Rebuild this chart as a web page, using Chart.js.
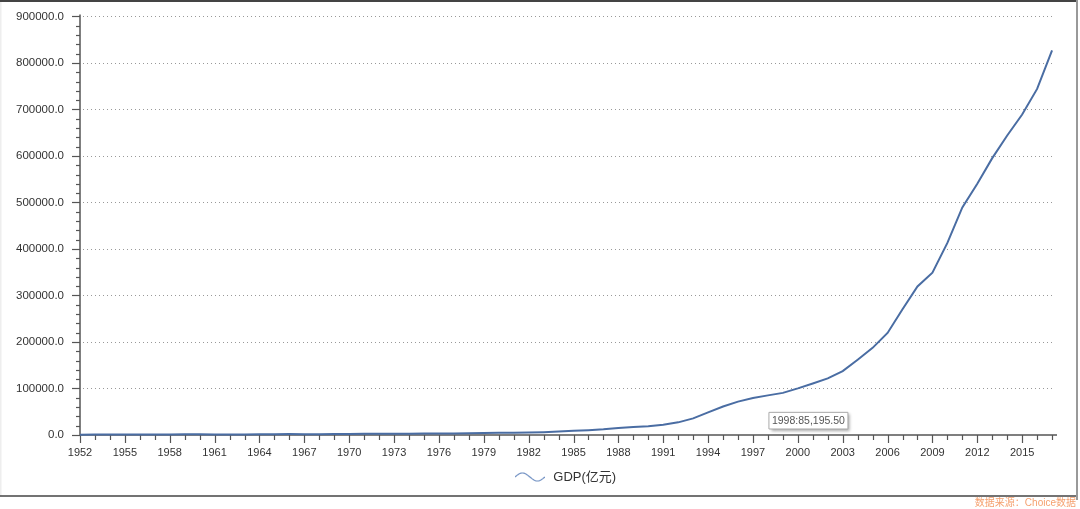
<!DOCTYPE html>
<html>
<head>
<meta charset="utf-8">
<script src="https://cdn.jsdelivr.net/npm/chart.js@4.4.1/dist/chart.umd.min.js"></script>
<style>
  html, body { margin: 0; padding: 0; background: #fff; }
  #wrap { width: 1080px; height: 509px; position: relative; }
</style>
</head>
<body>
<div id="wrap"><canvas id="gdpChart"></canvas></div>
<script>
// 年份与GDP(亿元)
const years = [1952, 1953, 1954, 1955, 1956, 1957, 1958, 1959, 1960, 1961,
  1962, 1963, 1964, 1965, 1966, 1967, 1968, 1969, 1970, 1971,
  1972, 1973, 1974, 1975, 1976, 1977, 1978, 1979, 1980, 1981,
  1982, 1983, 1984, 1985, 1986, 1987, 1988, 1989, 1990, 1991,
  1992, 1993, 1994, 1995, 1996, 1997, 1998, 1999, 2000, 2001,
  2002, 2003, 2004, 2005, 2006, 2007, 2008, 2009, 2010, 2011,
  2012, 2013, 2014, 2015, 2016, 2017];
const gdp = [679.1, 824.4, 859.8, 911.6, 1030.7, 1071.4, 1312.3, 1447.5, 1470.1, 1232.3,
  1162.2, 1248.3, 1469.9, 1734.0, 1888.7, 1794.2, 1744.1, 1962.2, 2279.7, 2456.9,
  2552.4, 2756.2, 2827.7, 3039.5, 2988.6, 3250.0, 3678.7, 4100.5, 4587.6, 4935.8,
  5373.4, 6020.9, 7278.5, 9098.9, 10376.2, 12174.6, 15180.4, 17179.7, 18872.9, 22005.6,
  27194.5, 35673.2, 48637.5, 61339.9, 71813.6, 79715.0, 85195.5, 90564.4, 100280.1, 110863.1,
  121717.4, 137422.0, 161840.2, 187318.9, 219438.5, 270232.3, 319515.5, 349081.4, 413030.3, 489300.6,
  540367.4, 595244.4, 643974.0, 689052.1, 744127.2, 827121.7];
const seriesName = 'GDP(亿元)';
const yMax = 900000;
const yMajor = 100000;
const yMinor = 20000;
const xMajor = 3;
const tooltipYear = 1998;
const sourceText = '数据来源：Choice数据';

Chart.defaults.font.family = "'Liberation Sans', Arial, 'Noto Sans CJK SC', sans-serif";
Chart.defaults.color = '#333';

// 提示框放在数据点的右下方
Chart.Tooltip.positioners.below = function (items) {
  if (!items.length) return false;
  const el = items[0].element;
  return { x: el.x + 1, y: el.y + 17 };
};

// 浪线图例
const wave = document.createElement('canvas');
wave.width = 30;
wave.height = 12;
(function () {
  const w = wave.getContext('2d');
  w.strokeStyle = '#6f8fc2';
  w.lineWidth = 1.2;
  w.beginPath();
  for (let i = 0; i <= 30; i++) {
    const py = 6 - 4 * Math.sin(i / 30 * 2 * Math.PI);
    if (i === 0) w.moveTo(i, py); else w.lineTo(i, py);
  }
  w.stroke();
})();

// 坐标轴、刻度、网格线和外框
const framePlugin = {
  id: 'framePlugin',
  beforeDraw(chart) {
    const ctx = chart.ctx;
    ctx.save();
    ctx.fillStyle = '#fff';
    ctx.fillRect(0, 0, chart.width, chart.height);
    ctx.restore();
  },
  afterLayout(chart) {
    // 图例居中于绘图区
    chart.legend.left += 36;
    chart.legend.right += 36;
  },
  beforeDatasetsDraw(chart) {
    const { ctx, chartArea, scales: { x, y } } = chart;
    const left = chartArea.left, bottom = chartArea.bottom;
    const lastX = x.getPixelForValue(years[years.length - 1]);
    ctx.save();
    // 点状网格线
    ctx.strokeStyle = '#999';
    ctx.lineWidth = 1;
    ctx.setLineDash([1, 3]);
    for (let v = yMajor; v <= yMax; v += yMajor) {
      const py = Math.round(y.getPixelForValue(v)) + 0.5;
      ctx.beginPath();
      ctx.moveTo(left + 3, py);
      ctx.lineTo(lastX, py);
      ctx.stroke();
    }
    ctx.setLineDash([]);
    // 坐标轴
    ctx.strokeStyle = '#555';
    ctx.lineWidth = 1.5;
    ctx.beginPath();
    ctx.moveTo(left, chartArea.top - 2);
    ctx.lineTo(left, bottom);
    ctx.lineTo(chartArea.right, bottom);
    ctx.stroke();
    ctx.lineWidth = 1.2;
    for (let v = 0; v <= yMax; v += yMinor) {
      const py = Math.round(y.getPixelForValue(v)) + 0.5;
      const len = v % yMajor === 0 ? 8 : 4;
      ctx.beginPath();
      ctx.moveTo(left - len, py);
      ctx.lineTo(left, py);
      ctx.stroke();
    }
    years.forEach(yr => {
      const px = Math.round(x.getPixelForValue(yr)) + 0.5;
      const len = (yr - years[0]) % xMajor === 0 ? 8 : 5;
      ctx.beginPath();
      ctx.moveTo(px, bottom);
      ctx.lineTo(px, bottom + len);
      ctx.stroke();
    });
    ctx.restore();
  },
  beforeTooltipDraw(chart, args) {
    const t = args.tooltip;
    const ctx = chart.ctx;
    ctx.save();
    ctx.shadowColor = 'rgba(0,0,0,0.35)';
    ctx.shadowOffsetX = 2;
    ctx.shadowOffsetY = 2;
    ctx.shadowBlur = 3;
    ctx.fillStyle = '#fff';
    ctx.fillRect(t.x, t.y, t.width, t.height);
    ctx.restore();
  },
  afterDraw(chart) {
    const ctx = chart.ctx;
    ctx.save();
    ctx.fillStyle = '#eee';
    ctx.fillRect(0, 0, 1.5, 496);
    ctx.strokeStyle = '#444';
    ctx.lineWidth = 2;
    ctx.beginPath();
    ctx.moveTo(0, 1);
    ctx.lineTo(1077, 1);
    ctx.stroke();
    ctx.lineWidth = 1.5;
    ctx.beginPath();
    ctx.moveTo(0, 496);
    ctx.lineTo(1077, 496);
    ctx.stroke();
    ctx.strokeStyle = '#999';
    ctx.lineWidth = 2;
    ctx.beginPath();
    ctx.moveTo(1077, 0);
    ctx.lineTo(1077, 500);
    ctx.stroke();
    ctx.fillStyle = '#f5a06e';
    ctx.font = "10px 'Liberation Sans', 'Noto Sans CJK SC', sans-serif";
    ctx.textAlign = 'right';
    ctx.textBaseline = 'middle';
    ctx.fillText(sourceText, 1076, 503);
    ctx.restore();
  }
};

const ctx = document.getElementById('gdpChart').getContext('2d');
const gdpChart = new Chart(ctx, {
  type: 'line',
  data: {
    datasets: [{
      label: seriesName,
      data: years.map((yr, i) => ({ x: yr, y: gdp[i] })),
      borderColor: '#4a6da3',
      backgroundColor: '#4a6da3',
      borderWidth: 2,
      pointRadius: 0,
      pointHoverRadius: 0,
      tension: 0,
      pointStyle: wave,
      clip: 4
    }]
  },
  options: {
    responsive: true,
    maintainAspectRatio: false,
    animation: false,
    events: [],
    layout: { padding: { left: 0, right: 23, top: 10, bottom: 15.5 } },
    scales: {
      x: {
        type: 'linear',
        min: years[0],
        max: years[years.length - 1] + 0.33,
        grid: { display: false, drawTicks: false },
        border: { display: false },
        ticks: {
          stepSize: 1,
          includeBounds: false,
          padding: 11,
          maxRotation: 0,
          autoSkip: false,
          font: { size: 11 },
          color: '#333',
          callback: v => ((v - years[0]) % xMajor === 0 ? String(v) : '')
        },
        afterFit: s => { s.height = 25.5; }
      },
      y: {
        min: 0,
        max: yMax,
        grid: { display: false, drawTicks: false },
        border: { display: false },
        ticks: {
          stepSize: yMajor,
          padding: 16,
          font: { size: 11.5 },
          color: '#333',
          callback: v => v.toFixed(1)
        },
        afterFit: s => { s.width = 80; s.paddingTop = 16.4; s.paddingBottom = 8; }
      }
    },
    plugins: {
      legend: {
        position: 'bottom',
        labels: {
          usePointStyle: true,
          pointStyleWidth: 34,
          padding: 10,
          font: { size: 13 },
          color: '#333'
        }
      },
      tooltip: {
        enabled: true,
        position: 'below',
        xAlign: 'left',
        yAlign: 'top',
        caretSize: 0,
        caretPadding: 0,
        cornerRadius: 0,
        backgroundColor: '#fff',
        borderColor: '#aaa',
        borderWidth: 1,
        bodyColor: '#555',
        bodyFont: { size: 10.5 },
        padding: { left: 3, right: 3, top: 2, bottom: 2 },
        displayColors: false,
        callbacks: {
          title: () => '',
          label: c => c.raw.x + ':' + c.raw.y.toLocaleString('en-US', { minimumFractionDigits: 2, maximumFractionDigits: 2 })
        }
      }
    }
  },
  plugins: [framePlugin]
});

gdpChart.tooltip.setActiveElements([{ datasetIndex: 0, index: years.indexOf(tooltipYear) }], { x: 0, y: 0 });
gdpChart.update('none');
</script>
</body>
</html>
